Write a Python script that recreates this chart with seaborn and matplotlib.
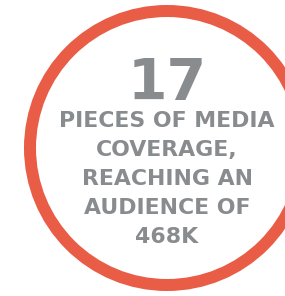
import matplotlib
matplotlib.use("Agg")
import matplotlib.pyplot as plt
import seaborn as sns
from matplotlib.patches import Circle

# content
headline = "17"
caption_lines = ["PIECES OF MEDIA", "COVERAGE,", "REACHING AN", "AUDIENCE OF", "468K"]

RING = "#e95c46"
GREY = "#898c8f"

sns.set_theme(style="white")
plt.rcParams["font.family"] = ["DejaVu Sans"]

fig = plt.figure(figsize=(2.85, 2.96), dpi=100)
ax = fig.add_axes([0, 0, 1, 1])
ax.set_xlim(0, 285)
ax.set_ylim(296, 0)
ax.axis("off")

# ring, 12px wide, centred slightly right so it runs off the edge
ax.add_patch(Circle((167, 148), 137, fill=False, edgecolor=RING, linewidth=12 * 72 / 100))

ax.text(167, 100, headline, ha="center", va="baseline", fontsize=41,
        fontweight="bold", color=GREY)

for i, line in enumerate(caption_lines):
    ax.text(167, 127 + i * 29, line, ha="center", va="baseline", fontsize=15.8,
            fontweight="bold", color=GREY)

fig.savefig("out.png", dpi=100)
